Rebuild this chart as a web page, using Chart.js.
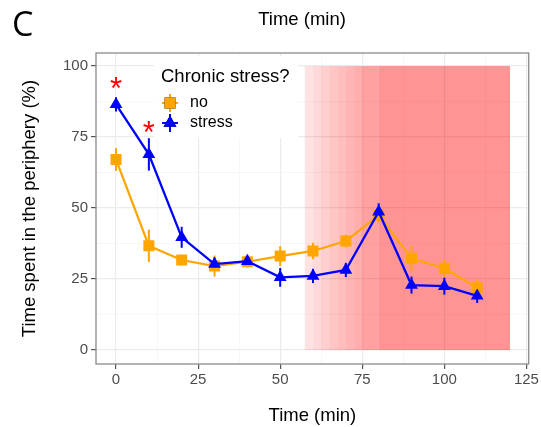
<!DOCTYPE html>
<html><head><meta charset="utf-8">
<script src="https://cdn.jsdelivr.net/npm/chart.js@4/dist/chart.umd.min.js"></script>
<style>html,body{margin:0;padding:0;background:#fff}#wrap{width:541px;height:427px}</style>
</head><body><div id="wrap"><canvas id="c" width="541" height="427"></canvas></div>
<script>
// ---- data ----
const times = [0, 10, 20, 30, 40, 50, 60, 70, 80, 90, 100, 110];
const noMean = [67.1, 36.7, 31.7, 29.6, 31.1, 33.1, 34.9, 38.4, 47.5, 32.3, 28.8, 21.9];
const noErr = [4.0, 5.7, 1.8, 3.7, 2.0, 3.5, 2.9, 2.2, 2.5, 4.4, 3.0, 3.0];
const stressMean = [86.5, 68.9, 39.7, 30.3, 31.3, 25.6, 26.1, 28.2, 48.7, 22.9, 22.5, 19.1];
const stressErr = [2.5, 5.7, 3.7, 2.3, 2.0, 3.3, 2.5, 2.5, 3.0, 3.0, 3.0, 2.5];
const seriesLabels = ["no", "stress"];
const legendTitle = "Chronic stress?";
const sigX = [0, 10];
const sigY = [94.6, 79.4];
const bandStarts = [57.5, 60, 62.5, 65, 67.5, 70, 72.5, 75, 80];
const bandAlphas = [0.11, 0.15, 0.19, 0.23, 0.26, 0.29, 0.32, 0.37, 0.42];
const bandEnd = 120, bandLow = 0, bandHigh = 100;
const xTicks = [0, 12.5, 25, 37.5, 50, 62.5, 75, 87.5, 100, 112.5, 125];
const yTicks = [0, 12.5, 25, 37.5, 50, 62.5, 75, 87.5, 100];

const ORANGE = '#FFA500', BLUE = '#0000FF';
const FONT = "'Liberation Sans', Arial, sans-serif";
const isMajor = v => Math.abs(v % 25) < 1e-6;

const plug = {
  id: 'extras',
  beforeDatasetsDraw(chart) {
    const {ctx, scales: {x, y}} = chart;
    ctx.save();
    const yt = y.getPixelForValue(bandHigh), yb = y.getPixelForValue(bandLow);
    for (let i = 0; i < bandStarts.length; i++) {
      const x0 = x.getPixelForValue(bandStarts[i]);
      const x1 = x.getPixelForValue(i + 1 < bandStarts.length ? bandStarts[i + 1] : bandEnd);
      ctx.fillStyle = `rgba(255,0,0,${bandAlphas[i]})`;
      ctx.fillRect(x0, yt, x1 - x0, yb - yt);
    }
    chart.data.datasets.forEach(ds => {
      ctx.strokeStyle = ds.borderColor;
      ctx.lineWidth = 2;
      ds.data.forEach((p, i) => {
        const px = x.getPixelForValue(p.x);
        ctx.beginPath();
        ctx.moveTo(px, y.getPixelForValue(p.y - ds.errs[i]));
        ctx.lineTo(px, y.getPixelForValue(p.y + ds.errs[i]));
        ctx.stroke();
      });
    });
    ctx.restore();
  },
  afterDatasetsDraw(chart) {
    const {ctx, scales: {x, y}} = chart;
    ctx.save();
    // significance asterisks
    ctx.fillStyle = '#FF0000';
    const as = 31;
    ctx.font = `${as}px ${FONT}`;
    ctx.textAlign = 'center';
    ctx.textBaseline = 'alphabetic';
    sigX.forEach((v, i) => ctx.fillText('*', x.getPixelForValue(v), y.getPixelForValue(sigY[i]) + 0.58 * as));
    // legend
    ctx.fillStyle = '#fff';
    ctx.fillRect(154, 56, 144, 82);
    ctx.fillStyle = '#000';
    ctx.textAlign = 'left';
    ctx.font = `18.5px ${FONT}`;
    ctx.fillText(legendTitle, 161, 82);
    const rows = [103, 123];
    chart.data.datasets.forEach((ds, i) => {
      const cy = rows[i], cx = 170;
      ctx.strokeStyle = ds.borderColor;
      ctx.lineWidth = 2;
      ctx.beginPath(); ctx.moveTo(162, cy); ctx.lineTo(178, cy); ctx.stroke();
      ctx.beginPath(); ctx.moveTo(cx, cy - 9); ctx.lineTo(cx, cy + 9); ctx.stroke();
      Chart.helpers.drawPoint(ctx, {pointStyle: ds.pointStyle, radius: ds.pointRadius, borderWidth: 0, rotation: 0}, cx, cy);
      ctx.fillStyle = ds.borderColor;
      ctx.fill();
      ctx.fillStyle = '#000';
      ctx.font = `16px ${FONT}`;
      ctx.textBaseline = 'middle';
      ctx.fillText(ds.label, 190, cy);
      ctx.textBaseline = 'alphabetic';
    });
    ctx.restore();
  },
  afterDraw(chart) {
    const {ctx, chartArea: a} = chart;
    ctx.save();
    ctx.strokeStyle = '#8a8a8a';
    ctx.lineWidth = 1.3;
    ctx.strokeRect(a.left, a.top, a.right - a.left, a.bottom - a.top);
    ctx.fillStyle = '#000';
    ctx.textAlign = 'center';
    ctx.textBaseline = 'middle';
    ctx.font = `18.5px ${FONT}`;
    ctx.fillText('Time (min)', 302, 20);
    ctx.textAlign = 'left';
    ctx.font = `34px 'Open Sans', sans-serif`;
    ctx.fillText('C', 12, 26);
    ctx.restore();
  }
};

const mk = (xs, ys) => xs.map((t, i) => ({x: t, y: ys[i]}));

new Chart(document.getElementById('c'), {
  type: 'line',
  data: {
    datasets: [
      {label: seriesLabels[0], data: mk(times, noMean), errs: noErr, borderColor: ORANGE, backgroundColor: ORANGE,
       pointStyle: 'rect', pointRadius: 7.8, pointBorderWidth: 0, borderWidth: 2.2, order: 1, tension: 0},
      {label: seriesLabels[1], data: mk(times, stressMean), errs: stressErr, borderColor: BLUE, backgroundColor: BLUE,
       pointStyle: 'triangle', pointRadius: 7.4, pointBorderWidth: 0, borderWidth: 2.3, order: 0, tension: 0}
    ]
  },
  options: {
    responsive: false,
    animation: false,
    layout: {padding: {top: 53, right: 12, left: 0, bottom: 0}},
    plugins: {legend: {display: false}, tooltip: {enabled: false}},
    scales: {
      x: {
        type: 'linear', min: -6.1, max: 125.7,
        afterBuildTicks: s => { s.ticks = xTicks.map(v => ({value: v})); },
        afterFit: s => { s.height = 63; },
        ticks: {autoSkip: false, maxRotation: 0, padding: 2, color: '#4d4d4d', font: {family: FONT, size: 15},
                callback: v => isMajor(v) ? String(v) : ''},
        grid: {color: c => isMajor(c.tick.value) ? '#ebebeb' : '#f3f3f3',
               lineWidth: c => isMajor(c.tick.value) ? 1.2 : 0.7,
               tickColor: c => isMajor(c.tick.value) ? '#555' : 'rgba(0,0,0,0)', tickLength: 5},
        border: {display: false},
        title: {display: true, text: 'Time (min)', color: '#000', font: {family: FONT, size: 18.5}, padding: {top: 0, bottom: 0}}
      },
      y: {
        min: -4.9, max: 104.6,
        afterBuildTicks: s => { s.ticks = yTicks.map(v => ({value: v})); },
        afterFit: s => { s.width = 96; },
        ticks: {autoSkip: false, padding: 3, color: '#4d4d4d', font: {family: FONT, size: 15},
                callback: v => isMajor(v) ? String(v) : ''},
        grid: {color: c => isMajor(c.tick.value) ? '#ebebeb' : '#f3f3f3',
               lineWidth: c => isMajor(c.tick.value) ? 1.2 : 0.7,
               tickColor: c => isMajor(c.tick.value) ? '#555' : 'rgba(0,0,0,0)', tickLength: 5},
        border: {display: false},
        title: {display: true, text: 'Time spent in the periphery (%)', color: '#000', font: {family: FONT, size: 18.5}, padding: {top: 19, bottom: 0}}
      }
    }
  },
  plugins: [plug]
});
</script></body></html>
